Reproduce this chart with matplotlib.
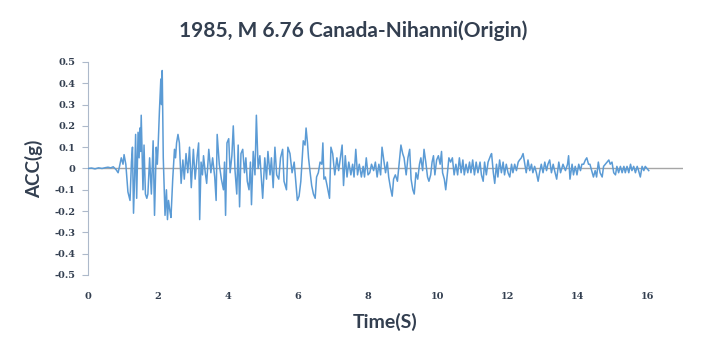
import matplotlib.pyplot as plt

# Acceleration record (time in s, acc in g)
time_s = [
    0, 0.1, 0.2, 0.3, 0.4, 0.5, 0.57, 0.65, 0.72, 0.8,
    0.86, 0.9, 0.95, 1.0, 1.03, 1.08, 1.14, 1.2, 1.24, 1.27,
    1.3, 1.33, 1.36, 1.39, 1.43, 1.46, 1.48, 1.5, 1.52, 1.55,
    1.57, 1.6, 1.64, 1.68, 1.71, 1.76, 1.81, 1.86, 1.9, 1.95,
    1.98, 2.0, 2.04, 2.08, 2.1, 2.12, 2.15, 2.2, 2.24, 2.27,
    2.3, 2.34, 2.37, 2.42, 2.47, 2.5, 2.53, 2.57, 2.61, 2.66,
    2.71, 2.75, 2.8, 2.85, 2.9, 2.95, 3.01, 3.06, 3.12, 3.16,
    3.19, 3.23, 3.27, 3.3, 3.35, 3.39, 3.45, 3.51, 3.56, 3.62,
    3.66, 3.69, 3.75, 3.81, 3.87, 3.9, 3.93, 3.97, 4.02, 4.06,
    4.11, 4.15, 4.2, 4.25, 4.29, 4.33, 4.37, 4.42, 4.47, 4.51,
    4.55, 4.6, 4.64, 4.67, 4.72, 4.77, 4.81, 4.86, 4.91, 4.96,
    4.99, 5.05, 5.1, 5.14, 5.2, 5.24, 5.29, 5.34, 5.39, 5.45,
    5.5, 5.56, 5.6, 5.67, 5.71, 5.77, 5.83, 5.89, 5.93, 5.98,
    6.03, 6.08, 6.12, 6.15, 6.2, 6.23, 6.27, 6.3, 6.34, 6.39,
    6.44, 6.49, 6.53, 6.58, 6.63, 6.68, 6.71, 6.74, 6.78, 6.83,
    6.9, 6.94, 6.99, 7.05, 7.11, 7.16, 7.21, 7.26, 7.3, 7.35,
    7.4, 7.45, 7.51, 7.56, 7.6, 7.65, 7.7, 7.75, 7.81, 7.86,
    7.9, 7.95, 8.0, 8.05, 8.1, 8.16, 8.21, 8.26, 8.31, 8.36,
    8.4, 8.45, 8.5, 8.55, 8.59, 8.64, 8.69, 8.73, 8.78, 8.84,
    8.9, 8.94, 8.99, 9.03, 9.09, 9.14, 9.19, 9.23, 9.28, 9.32,
    9.37, 9.42, 9.47, 9.51, 9.56, 9.6, 9.65, 9.7, 9.74, 9.79,
    9.83, 9.87, 9.91, 9.96, 10.01, 10.06, 10.1, 10.13, 10.18, 10.22,
    10.27, 10.31, 10.36, 10.41, 10.46, 10.51, 10.56, 10.61, 10.66, 10.71,
    10.75, 10.8, 10.85, 10.9, 10.94, 10.99, 11.04, 11.09, 11.14, 11.2,
    11.24, 11.29, 11.33, 11.38, 11.43, 11.5, 11.53, 11.58, 11.62, 11.67,
    11.71, 11.76, 11.81, 11.86, 11.9, 11.95, 12.0, 12.05, 12.1, 12.14,
    12.19, 12.24, 12.29, 12.33, 12.38, 12.43, 12.48, 12.52, 12.57, 12.62,
    12.67, 12.71, 12.76, 12.81, 12.86, 12.9, 12.95, 13.0, 13.05, 13.1,
    13.14, 13.19, 13.24, 13.29, 13.33, 13.39, 13.45, 13.5, 13.57, 13.64,
    13.7, 13.73, 13.77, 13.83, 13.87, 13.92, 13.97, 14.02, 14.07, 14.11,
    14.16, 14.21, 14.25, 14.3, 14.34, 14.39, 14.44, 14.49, 14.53, 14.58,
    14.63, 14.69, 14.73, 14.78, 14.83, 14.88, 14.92, 14.97, 15.02, 15.07,
    15.11, 15.16, 15.21, 15.26, 15.31, 15.35, 15.4, 15.45, 15.5, 15.54,
    15.59, 15.64, 15.69, 15.73, 15.78, 15.83, 15.88, 15.92, 15.97, 16.02,
]
acc_g = [
    0, 0.002, -0.002, 0.003, 0.0, 0.004, 0.006, 0.003, 0.008, -0.005,
    -0.02, 0.01, 0.05, 0.02, 0.065, 0.02, -0.11, -0.15, 0.03, 0.1,
    -0.21, -0.05, 0.16, -0.14, 0.17, 0.05, 0.19, 0.08, 0.25, 0.03,
    -0.1, 0.11, -0.12, -0.14, -0.12, 0.05, -0.12, 0.13, -0.22, 0.1,
    0.02, 0.09, 0.27, 0.42, 0.3, 0.46, 0.05, -0.22, -0.1, -0.24,
    -0.15, -0.2, -0.23, -0.05, 0.09, 0.05, 0.12, 0.16, 0.12, -0.07,
    0.04, -0.05, 0.07, -0.02, 0.1, -0.09, 0.09, -0.05, 0.06, 0.12,
    -0.24, 0.03, -0.03, 0.06, -0.02, -0.07, 0.09, -0.02, 0.05, -0.04,
    -0.15, 0.16, 0.02, -0.05, -0.1, 0.03, -0.22, 0.12, 0.14, -0.02,
    0.06, 0.2, -0.01, -0.12, 0.11, -0.18, 0.07, 0.09, -0.02, 0.05,
    -0.06, -0.1, 0.03, -0.17, 0.08, -0.03, 0.25, 0.0, 0.06, -0.07,
    -0.14, 0.05, -0.05, 0.08, -0.03, 0.05, -0.09, 0.1, -0.03, -0.05,
    0.05, 0.09, -0.06, -0.1, 0.1, 0.07, -0.02, 0.03, -0.05, -0.15,
    -0.13, -0.06, 0.05, 0.13, 0.11, 0.19, 0.12, 0.05, -0.01, -0.08,
    -0.12, -0.14, -0.04, -0.02, 0.03, 0.02, 0.12, -0.05, -0.04, -0.08,
    -0.14, 0.1, 0.07, -0.03, 0.05, -0.01, 0.05, 0.11, -0.08, 0.06,
    -0.04, 0.03, -0.03, 0.02, -0.04, 0.09, -0.03, 0.02, -0.04, 0.01,
    -0.04, 0.05, -0.03, -0.02, 0.02, -0.01, 0.03, -0.04, 0.02, -0.03,
    0.1, 0.04, -0.02, 0.03, -0.04, -0.09, -0.13, -0.05, -0.03, -0.06,
    0.04, 0.11, 0.07, 0.05, -0.03, 0.05, 0.09, -0.05, -0.1, -0.12,
    -0.02, -0.05, 0.02, 0.05, -0.01, 0.09, 0.03, -0.04, -0.06, -0.03,
    0.03, 0.06, -0.03, 0.04, 0.06, 0.02, 0.08, -0.02, -0.05, -0.1,
    -0.02, 0.05, 0.03, 0.05, -0.03, 0.02, -0.03, 0.05, -0.02, 0.04,
    -0.03, 0.02, -0.02, 0.03, -0.02, 0.04, -0.03, 0.03, -0.02, 0.03,
    -0.03, -0.06, 0.03, -0.03, 0.03, 0.06, 0.07, -0.02, -0.07, 0.02,
    -0.04, 0.04, -0.02, 0.03, -0.03, 0.02, -0.02, -0.04, 0.02, -0.02,
    0.02, -0.01, 0.03, 0.04, 0.05, 0.07, 0.02, -0.02, 0.04, -0.01,
    0.02, -0.02, 0.01, -0.02, -0.06, -0.02, 0.02, -0.02, 0.03, -0.01,
    0.02, 0.04, -0.02, 0.02, -0.01, -0.05, 0.03, -0.02, 0.02, -0.01,
    0.02, 0.06, -0.05, 0.02, -0.03, 0.01, -0.03, 0.02, -0.01, 0.02,
    0.02, 0.04, 0.05, 0.02, 0.02, -0.01, -0.04, -0.01, -0.04, 0.03,
    -0.02, -0.04, 0.01, 0.02, 0.03, 0.04, 0.02, 0.03, -0.02, -0.03,
    0.01, -0.02, 0.01, -0.02, 0.01, -0.02, 0.01, -0.02, 0.02, -0.01,
    0.01, -0.02, 0.01, -0.01, -0.04, 0.01, -0.01, 0.01, 0.0, -0.01,
]
y_ticks = [0.5, 0.4, 0.3, 0.2, 0.1, 0, -0.1, -0.2, -0.3, -0.4, -0.5]
x_ticks = [0, 2, 4, 6, 8, 10, 12, 14, 16]

assert len(time_s) == len(acc_g)

text_color = "#333f50"

fig = plt.figure(figsize=(7.07, 3.54), dpi=100)
ax = fig.add_axes([0.1245, 0.2232, 0.8416, 0.6017])

ax.plot(time_s, acc_g, color="#5b9bd5", linewidth=1.1, zorder=3)
ax.axhline(0, color="#a6a6a6", linewidth=1.0, zorder=2)

ax.set_xlim(0, 17)
ax.set_ylim(-0.5, 0.5)
ax.set_yticks(y_ticks)
ax.set_yticklabels([f"{v:g}" for v in y_ticks])
ax.set_xticks(x_ticks)

for side in ["top", "right", "bottom"]:
    ax.spines[side].set_visible(False)
ax.spines["left"].set_color("#adb9ca")

for lab in ax.get_xticklabels() + ax.get_yticklabels():
    lab.set_fontfamily("DejaVu Serif")
    lab.set_fontweight("bold")
    lab.set_fontsize(7)
    lab.set_color(text_color)

ax.tick_params(axis="y", length=4, color="#adb9ca", pad=5)
ax.tick_params(axis="x", length=0, pad=12)

# title centred on the figure, as in the original
fig.text(0.5, 1 - 31 / 354, "1985, M 6.76 Canada-Nihanni(Origin)", ha="center", va="center",
         fontsize=15, fontweight="bold", color=text_color, family="Lato")
ax.set_xlabel("Time(S)", fontsize=14, fontweight="bold", color=text_color, family="Lato", labelpad=9)
ax.set_ylabel("ACC(g)", fontsize=13.5, fontweight="bold", color=text_color, family="Lato", labelpad=8)

fig.savefig("out.png", dpi=100)
